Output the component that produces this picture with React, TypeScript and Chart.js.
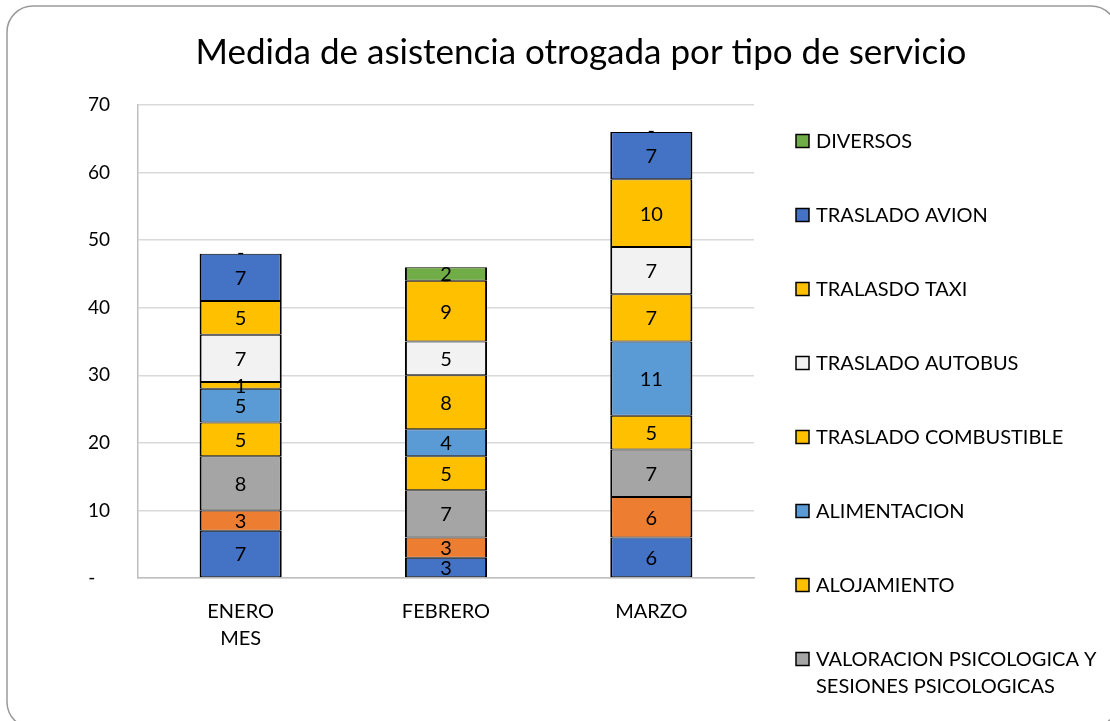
import React, { useEffect, useRef } from 'react';
import { Chart, registerables } from 'chart.js';

Chart.register(...registerables);

const TITLE = 'Medida de asistencia otrogada por tipo de servicio';
const categories: (string | string[])[] = [['ENERO', 'MES'], 'FEBRERO', 'MARZO'];
const yTicks = [0, 10, 20, 30, 40, 50, 60, 70];

// series, bottom to top
const serieBase1 = [7, 3, 6];
const serieBase2 = [3, 3, 6];
const valoracion = [8, 7, 7];
const alojamiento = [5, 5, 5];
const alimentacion = [5, 4, 11];
const combustible = [1, 8, 7];
const autobus = [7, 5, 7];
const taxi = [5, 9, 10];
const avion = [7, 0, 7];
const diversos = [0, 2, 0];

const seriesNames = [
  'SERIE 1',
  'SERIE 2',
  ['VALORACION PSICOLOGICA Y', 'SESIONES PSICOLOGICAS'],
  'ALOJAMIENTO',
  'ALIMENTACION',
  'TRASLADO COMBUSTIBLE',
  'TRASLADO AUTOBUS',
  'TRALASDO TAXI',
  'TRASLADO AVION',
  'DIVERSOS',
];
const seriesValues = [serieBase1, serieBase2, valoracion, alojamiento, alimentacion, combustible, autobus, taxi, avion, diversos];
const seriesColors = ['#4472C4', '#ED7D31', '#A5A5A5', '#FFC000', '#5B9BD5', '#FFC000', '#F2F2F2', '#FFC000', '#4472C4', '#70AD47'];
const legendHidden = [true, true, false, false, false, false, false, false, false, false];

const FONT = 'Lato, "Open Sans", sans-serif';

const framePlugin = {
  id: 'frame',
  beforeDraw(chart: any) {
    const ctx = chart.ctx;
    ctx.save();
    ctx.fillStyle = '#ffffff';
    ctx.fillRect(0, 0, chart.width, chart.height);
    ctx.beginPath();
    ctx.roundRect(7, 6, 1110, 722, 26);
    ctx.strokeStyle = '#9a9a9a';
    ctx.lineWidth = 1.5;
    ctx.stroke();
    ctx.restore();
  },
  afterDraw(chart: any) {
    const ctx = chart.ctx;
    ctx.save();
    // title
    ctx.fillStyle = '#000';
    ctx.font = `35px ${FONT}`;
    ctx.textAlign = 'center';
    ctx.textBaseline = 'middle';
    ctx.fillText(TITLE, 581, 53);
    // legend (reverse order, top = last series)
    ctx.font = `20px ${FONT}`;
    ctx.textAlign = 'left';
    let row = 0;
    for (let i = seriesNames.length - 1; i >= 0; i--) {
      if (legendHidden[i]) continue;
      const cy = 141 + row * 74;
      ctx.fillStyle = seriesColors[i];
      ctx.fillRect(796, cy - 6.5, 13, 13);
      ctx.strokeStyle = '#000';
      ctx.lineWidth = 1.5;
      ctx.strokeRect(796, cy - 6.5, 13, 13);
      ctx.fillStyle = '#000';
      const name = seriesNames[i];
      const lines = Array.isArray(name) ? name : [name];
      lines.forEach((ln, k) => ctx.fillText(ln, 816, cy + 1 + k * 27));
      row++;
    }
    ctx.restore();
  },
};

const labelPlugin = {
  id: 'segLabels',
  afterDatasetsDraw(chart: any) {
    const ctx = chart.ctx;
    ctx.save();
    ctx.fillStyle = '#000';
    ctx.font = `20px ${FONT}`;
    ctx.textAlign = 'center';
    ctx.textBaseline = 'middle';
    chart.data.datasets.forEach((ds: any, di: number) => {
      const meta = chart.getDatasetMeta(di);
      meta.data.forEach((el: any, idx: number) => {
        const v = ds.data[idx];
        if (v === 0) {
          ctx.fillText('-', el.x, el.y - 1);
        } else {
          ctx.fillText(String(v), el.x, (el.y + el.base) / 2 + 1);
        }
      });
    });
    ctx.restore();
  },
};

export default function App() {
  const ref = useRef<HTMLCanvasElement>(null);
  useEffect(() => {
    if (!ref.current) return;
    const chart = new Chart(ref.current, {
      type: 'bar',
      data: {
        labels: categories,
        datasets: seriesValues.map((vals, i) => ({
          label: Array.isArray(seriesNames[i]) ? (seriesNames[i] as string[]).join(' ') : (seriesNames[i] as string),
          data: vals,
          backgroundColor: seriesColors[i],
          borderColor: '#000',
          borderWidth: { left: 2, right: 2, top: 1, bottom: 1 },
          borderSkipped: false,
          categoryPercentage: 1,
          barPercentage: 0.4,
        })),
      },
      options: {
        responsive: false,
        animation: false,
        layout: { padding: { top: 105, right: 356, bottom: 0, left: 0 } },
        plugins: {
          legend: { display: false },
          title: { display: false },
          tooltip: { enabled: false },
        },
        scales: {
          x: {
            stacked: true,
            grid: { display: false },
            border: { display: true, color: '#BFBFBF', width: 1.5 },
            ticks: { color: '#000', font: { family: FONT, size: 20, lineHeight: 1.35 }, padding: 12 },
            afterFit: (s: any) => { s.height = 143; },
          },
          y: {
            stacked: true,
            min: 0,
            max: 70,
            afterBuildTicks: (s: any) => { s.ticks = yTicks.map((v) => ({ value: v })); },
            grid: { color: '#D9D9D9', lineWidth: 1.5, drawTicks: false },
            border: { display: true, color: '#BFBFBF', width: 1.5 },
            ticks: {
              color: '#000',
              font: { family: FONT, size: 19 },
              padding: 28,
              callback: (v: any) => (v === 0 ? '-   ' : String(v)),
            },
            afterFit: (s: any) => { s.width = 138; },
          },
        },
      },
      plugins: [framePlugin, labelPlugin],
    });
    return () => chart.destroy();
  }, []);
  return (
    <div style={{ position: 'absolute', left: 0, top: 0, width: 1110, height: 721 }}>
      <canvas ref={ref} width={1110} height={721} />
    </div>
  );
}
